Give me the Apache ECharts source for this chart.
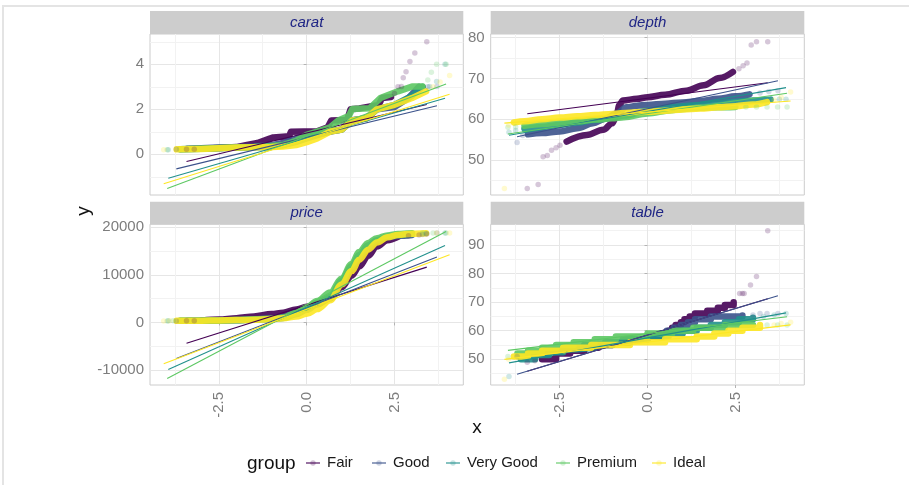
<!DOCTYPE html>
<html><head><meta charset="utf-8">
<script src="https://cdn.jsdelivr.net/npm/echarts@6/dist/echarts.min.js"></script>
<style>html,body{margin:0;padding:0;background:#fff}#c{width:909px;height:485px}</style>
</head><body><div id="c"></div>
<script>
// ---------- categories ----------
const groups = ['Fair', 'Good', 'Very Good', 'Premium', 'Ideal'];
const facets = ['carat', 'depth', 'price', 'table'];

// ---------- tick labels ----------
const xTicks = [-2.5, 0, 2.5];
const xMinor = [-3.75, -1.25, 1.25, 3.75];
const caratTicks = [0, 2, 4];
const caratMinor = [-1, 1, 3, 5];
const depthTicks = [50, 60, 70, 80];
const depthMinor = [45, 55, 65, 75];
const priceTicks = [-10000, 0, 10000, 20000];
const priceMinor = [-5000, 5000, 15000];
const tableTicks = [50, 60, 70, 80, 90];
const tableMinor = [45, 55, 65, 75, 85, 95];

// ---------- carat: [theoretical, sample] ----------
const carat_Fair = [[-3.0,0.25],[-2.5,0.28],[-2.0,0.32],[-1.7,0.42],[-1.4,0.5],[-1.05,0.7],[-0.95,0.75],[-0.5,0.8],[-0.45,1.0],[0.3,1.02],[0.6,1.2],[0.7,1.5],[1.15,1.52],[1.25,2.0],[1.5,2.04],[1.55,2.12],[2.05,2.2],[2.15,2.5],[2.4,2.55]];
const carat_Fair_tail = [[-3.42,0.22],[-3.2,0.23],[2.5,2.7],[2.6,3.0],[2.7,3.01],[2.75,3.4],[2.83,3.67],[2.94,4.13],[3.08,4.5],[3.42,5.01]];
const carat_Good = [[-3.4,0.25],[-3,0.27],[-2.5,0.3],[-2,0.31],[-1.5,0.35],[-1,0.41],[-0.67,0.5],[-0.3,0.7],[0,0.82],[0.4,0.91],[0.67,1.01],[1.0,1.1],[1.25,1.5],[1.7,1.6],[2.0,2.0],[2.5,2.1],[2.9,2.5],[3.2,3.0]];
const carat_Good_tail = [[-3.71,0.23],[3.45,3.0],[3.71,3.01]];
const carat_VeryGood = [[-3.6,0.23],[-3,0.25],[-2.5,0.27],[-2,0.3],[-1.5,0.31],[-1,0.33],[-0.67,0.41],[-0.3,0.55],[0,0.71],[0.4,0.9],[0.67,1.02],[1.0,1.1],[1.3,1.5],[1.7,1.6],[2.0,2.0],[2.5,2.2],[3.0,2.6],[3.3,3.0]];
const carat_VeryGood_tail = [[-3.94,0.2],[3.5,3.01],[3.7,3.24],[3.94,4.0]];
const carat_Premium = [[-3.6,0.23],[-3,0.25],[-2.5,0.28],[-2,0.3],[-1.5,0.32],[-1,0.37],[-0.67,0.41],[-0.3,0.6],[0,0.86],[0.3,1.01],[0.67,1.2],[0.9,1.5],[1.2,1.7],[1.3,2.02],[1.8,2.05],[2.1,2.5],[2.6,2.8],[3.0,3.01],[3.3,3.02]];
const carat_Premium_tail = [[-3.97,0.2],[3.45,3.3],[3.55,3.65],[3.7,4.01],[3.97,4.01]];
const carat_Ideal = [[-3.7,0.22],[-3,0.24],[-2.5,0.27],[-2,0.3],[-1.5,0.31],[-1,0.32],[-0.67,0.35],[-0.3,0.41],[0,0.54],[0.3,0.71],[0.67,1.01],[1.0,1.1],[1.3,1.5],[1.7,1.6],[2.0,2.0],[2.5,2.2],[3.0,2.5],[3.4,2.8]];
const carat_Ideal_tail = [[-4.07,0.2],[3.6,3.0],[3.8,3.22],[4.07,3.5]];
const carat_Fair_line = [[-3.42,-0.318],[3.42,2.218]];
const carat_Good_line = [[-3.71,-0.648],[3.71,2.158]];
const carat_VeryGood_line = [[-3.94,-1.066],[3.94,2.496]];
const carat_Premium_line = [[-3.97,-1.52],[3.97,3.13]];
const carat_Ideal_line = [[-4.07,-1.31],[4.07,2.67]];

// ---------- depth ----------
const depth_Fair = [[-2.3,54.5],[-1.73,56.1],[-1.26,57.4],[-1.0,59.0],[-0.88,61.0],[-0.8,63.5],[-0.7,64.6],[-0.3,65.0],[0,65.4],[0.5,66.0],[1.1,67.0],[1.6,68.3],[2.05,70.1],[2.43,71.6]];
const depth_Fair_tail = [[-3.42,43.0],[-3.11,44.0],[-2.97,50.8],[-2.85,51.1],[-2.73,52.4],[-2.6,53.0],[-2.49,53.6],[2.6,72.4],[2.72,73.1],[2.83,73.8],[2.95,78.2],[3.1,79.0],[3.42,79.0]];
const depth_Good = [[-3.4,56.3],[-3,56.6],[-2.5,57.0],[-2,57.8],[-1.55,59.0],[-1.2,60.1],[-0.88,61.4],[-0.6,62.9],[-0.3,63.3],[0,63.5],[0.5,63.8],[1,64.1],[1.5,64.5],[2,65.0],[2.5,65.6],[2.9,66.1]];
const depth_Good_tail = [[-3.71,54.3],[-3.55,56.0],[3.2,66.4],[3.45,66.8],[3.71,67.0]];
const depth_VeryGood = [[-3.5,57.6],[-3,58.1],[-2.5,58.6],[-2,59.2],[-1.5,59.8],[-1,60.4],[-0.67,60.9],[0,62.1],[0.67,62.9],[1,63.2],[1.5,63.5],[2,63.9],[2.5,64.3],[3,64.6],[3.5,64.8]];
const depth_VeryGood_tail = [[-3.94,56.8],[-3.75,57.2],[3.75,64.9],[3.94,64.9]];
const depth_Premium = [[-3.5,58.4],[-3,58.8],[-2.5,59.2],[-2,59.5],[-1.5,59.9],[-1,60.2],[-0.67,60.5],[0,61.4],[0.67,62.2],[1,62.5],[1.5,62.8],[2,62.9],[2.5,63.0]];
const depth_Premium_tail = [[-3.97,58.0],[-3.75,58.1],[2.8,63.0],[3.1,63.0],[3.4,63.0],[3.7,63.0],[3.97,63.0]];
const depth_Ideal = [[-3.8,59.2],[-3.5,59.5],[-3,60.0],[-2.5,60.4],[-2,60.7],[-1.5,61.0],[-1,61.3],[-0.5,61.6],[0,61.8],[0.5,62.1],[1,62.4],[1.5,62.6],[2,62.9],[2.5,63.2],[3,63.6],[3.4,64.2]];
const depth_Ideal_tail = [[-4.07,43.0],[-3.95,58.6],[3.6,64.7],[3.8,65.4],[4.07,66.7]];
const depth_Fair_line = [[-3.42,61.35],[3.42,68.95]];
const depth_Good_line = [[-3.71,55.68],[3.71,69.42]];
const depth_VeryGood_line = [[-3.94,56.06],[3.94,67.74]];
const depth_Premium_line = [[-3.97,56.35],[3.97,66.35]];
const depth_Ideal_line = [[-4.07,59.03],[4.07,64.46]];

// ---------- price ----------
const price_Fair = [[-3.0,380],[-2.5,600],[-2,900],[-1.5,1250],[-1,1750],[-0.67,2050],[-0.3,2700],[0,3282],[0.3,4000],[0.67,5206],[1,7400],[1.28,9800],[1.5,11800],[1.75,14000],[2,16000],[2.3,17300],[2.6,18000]];
const price_Fair_tail = [[-3.42,337],[-3.2,350],[2.9,18200],[3.2,18400],[3.42,18574]];
const price_Good = [[-3.4,340],[-3,370],[-2.5,420],[-2,520],[-1.5,650],[-1,850],[-0.67,1145],[-0.3,2000],[0,3050],[0.3,3800],[0.67,5028],[1,8500],[1.28,11200],[1.5,13600],[1.75,15800],[2,17000],[2.3,17900],[2.6,18200],[3,18400]];
const price_Good_tail = [[-3.71,327],[3.3,18500],[3.71,18788]];
const price_VeryGood = [[-3.6,345],[-3,380],[-2.5,430],[-2,480],[-1.5,580],[-1,720],[-0.67,912],[-0.3,1700],[0,2648],[0.3,3800],[0.67,5373],[1,8800],[1.28,11800],[1.5,14200],[1.75,16200],[2,17300],[2.3,18000],[2.6,18400],[3,18600]];
const price_VeryGood_tail = [[-3.94,336],[3.4,18700],[3.94,18818]];
const price_Premium = [[-3.6,340],[-3,370],[-2.5,430],[-2,510],[-1.5,640],[-1,790],[-0.67,1046],[-0.3,2000],[0,3185],[0.3,4500],[0.67,6296],[1,9200],[1.28,12300],[1.5,14800],[1.75,16700],[2,17700],[2.3,18300],[2.6,18600],[3,18750]];
const price_Premium_tail = [[-3.97,326],[-3.8,330],[3.3,18790],[3.6,18810],[3.97,18823]];
const price_Ideal = [[-3.7,335],[-3,380],[-2.5,430],[-2,490],[-1.5,580],[-1,700],[-0.67,878],[-0.3,1250],[0,1810],[0.3,2800],[0.67,4678],[1,8000],[1.28,10800],[1.5,13200],[1.75,15300],[2,16800],[2.3,17900],[2.6,18400],[3,18650],[3.4,18750]];
const price_Ideal_tail = [[-4.07,326],[-3.9,330],[3.7,18790],[4.07,18806]];
const price_Fair_line = [[-3.42,-4375],[3.42,11631]];
const price_Good_line = [[-3.71,-7591],[3.71,13764]];
const price_VeryGood_line = [[-3.94,-9887],[3.94,16172]];
const price_Premium_line = [[-3.97,-11780],[3.97,19122]];
const price_Ideal_line = [[-4.07,-8687],[4.07,14243]];

// ---------- table ----------
const table_Fair = [[-3.0,50],[-2.6,52],[-2.2,53],[-1.8,54],[-1.4,55],[-1.0,56],[-0.5,57],[0,58],[0.4,59],[0.6,60],[0.7,61],[0.8,62],[0.95,63],[1.05,64],[1.2,65],[1.35,66],[1.7,67],[2.0,68],[2.2,69],[2.45,70]];
const table_Fair_tail = [[-3.42,49],[-3.2,49.5],[2.62,73],[2.7,73],[2.75,73],[2.93,76],[3.1,79],[3.42,95]];
const table_Good = [[-3.4,52],[-2.9,53],[-2.4,54],[-1.8,55],[-1.2,56],[-0.7,57],[0,58],[0.35,59],[0.55,60],[0.75,61],[0.95,62],[1.15,63],[1.35,64],[1.8,65],[2.7,65.3]];
const table_Good_tail = [[-3.71,51],[3.0,65.5],[3.2,66],[3.4,66],[3.71,66]];
const table_VeryGood = [[-3.6,50],[-3.2,51.5],[-2.8,52.5],[-2.4,53.5],[-2,54],[-1.5,55],[-1,56],[-0.5,57],[0,58],[0.6,59],[1,60],[1.4,61],[1.8,62],[2.2,63],[2.6,64],[3.0,64.5]];
const table_VeryGood_tail = [[-3.94,44],[3.3,65],[3.6,65.5],[3.94,66]];
const table_Premium = [[-3.7,52],[-3.4,53],[-3.0,54],[-2.6,55],[-2.1,56],[-1.5,57],[-0.9,58],[0,59],[0.7,60],[1.3,61],[2.2,62],[3.0,62]];
const table_Premium_tail = [[-3.97,51],[3.4,62],[3.7,62],[3.97,62]];
const table_Ideal = [[-3.8,51],[-3.4,52],[-3.0,53],[-2.4,54],[-1.6,55],[-0.5,56],[0.5,57],[1.4,58],[1.9,59],[2.3,60],[2.7,61],[3.2,62]];
const table_Ideal_tail = [[-4.07,43],[-3.95,50],[3.6,62],[3.8,62.5],[4.07,63]];
const table_Fair_line = [[-3.42,45.83],[3.42,71.17]];
const table_Good_line = [[-3.71,44.75],[3.71,72.25]];
const table_VeryGood_line = [[-3.94,48.74],[3.94,66.26]];
const table_Premium_line = [[-3.97,53.11],[3.97,64.89]];
const table_Ideal_line = [[-4.07,49.97],[4.07,62.03]];

// ---------- assemble ----------
const colors = ['#440154', '#3B528B', '#21908C', '#5DC863', '#FDE725'];
const coreSets = {
  carat: [carat_Fair, carat_Good, carat_VeryGood, carat_Premium, carat_Ideal],
  depth: [depth_Fair, depth_Good, depth_VeryGood, depth_Premium, depth_Ideal],
  price: [price_Fair, price_Good, price_VeryGood, price_Premium, price_Ideal],
  table: [table_Fair, table_Good, table_VeryGood, table_Premium, table_Ideal]
};
const tailSets = {
  carat: [carat_Fair_tail, carat_Good_tail, carat_VeryGood_tail, carat_Premium_tail, carat_Ideal_tail],
  depth: [depth_Fair_tail, depth_Good_tail, depth_VeryGood_tail, depth_Premium_tail, depth_Ideal_tail],
  price: [price_Fair_tail, price_Good_tail, price_VeryGood_tail, price_Premium_tail, price_Ideal_tail],
  table: [table_Fair_tail, table_Good_tail, table_VeryGood_tail, table_Premium_tail, table_Ideal_tail]
};
const lineSets = {
  carat: [carat_Fair_line, carat_Good_line, carat_VeryGood_line, carat_Premium_line, carat_Ideal_line],
  depth: [depth_Fair_line, depth_Good_line, depth_VeryGood_line, depth_Premium_line, depth_Ideal_line],
  price: [price_Fair_line, price_Good_line, price_VeryGood_line, price_Premium_line, price_Ideal_line],
  table: [table_Fair_line, table_Good_line, table_VeryGood_line, table_Premium_line, table_Ideal_line]
};
const yTickSets = {carat: caratTicks, depth: depthTicks, price: priceTicks, table: tableTicks};
const yMinorSets = {carat: caratMinor, depth: depthMinor, price: priceMinor, table: tableMinor};

// layout (positions/styles)
const gridPos = [
  {left: 150, top: 34, width: 313.3, height: 161},
  {left: 490.7, top: 34, width: 313.6, height: 161},
  {left: 150, top: 224.3, width: 313.3, height: 160.7},
  {left: 490.7, top: 224.3, width: 313.6, height: 160.7}
];
const yRange = {carat: [-1.81, 5.35], depth: [41.4, 80.9], price: [-13150, 20630], table: [41.0, 97.25]};
const xRange = [-4.46, 4.46];
const FONT = '"Liberation Sans", Arial, Helvetica, sans-serif';
const labelGrey = '#7d7d7d';
const legendTextLeft = [327, 393, 467, 577, 673];

const grids = [], xAxes = [], yAxes = [], series = [], graphics = [];

facets.forEach((f, i) => {
  const g = gridPos[i];
  const bottom = i >= 2;
  grids.push(Object.assign({show: true, borderColor: '#cccccc', borderWidth: 1, backgroundColor: '#ffffff', containLabel: false}, g));
  xAxes.push({
    type: 'value', gridIndex: i, min: xRange[0], max: xRange[1],
    axisLine: {show: false},
    axisTick: {show: bottom, customValues: xTicks, length: 3, lineStyle: {color: '#b3b3b3'}},
    axisLabel: {show: bottom, customValues: xTicks, rotate: 90, margin: 7, color: labelGrey, fontSize: 15, fontFamily: FONT,
      formatter: v => v.toFixed(1)},
    splitLine: {show: true, lineStyle: {color: '#e6e6e6', width: 1}}
  });
  xAxes.push({
    type: 'value', gridIndex: i, min: xRange[0], max: xRange[1],
    axisLine: {show: false},
    axisTick: {show: false, customValues: xMinor},
    axisLabel: {show: false, customValues: xMinor},
    splitLine: {show: true, lineStyle: {color: '#f2f2f2', width: 1}}
  });
  yAxes.push({
    type: 'value', gridIndex: i, min: yRange[f][0], max: yRange[f][1],
    axisLine: {show: false},
    axisTick: {show: true, customValues: yTickSets[f], length: 3, lineStyle: {color: '#b3b3b3'}},
    axisLabel: {show: true, customValues: yTickSets[f], margin: 6, color: labelGrey, fontSize: 15, fontFamily: FONT,
      formatter: v => String(v)},
    splitLine: {show: true, lineStyle: {color: '#e6e6e6', width: 1}}
  });
  yAxes.push({
    type: 'value', gridIndex: i, min: yRange[f][0], max: yRange[f][1],
    axisLine: {show: false},
    axisTick: {show: false, customValues: yMinorSets[f]},
    axisLabel: {show: false, customValues: yMinorSets[f]},
    splitLine: {show: true, lineStyle: {color: '#f2f2f2', width: 1}}
  });

  groups.forEach((grp, k) => {
    series.push({
      name: grp + ' pts', type: 'line', xAxisIndex: 2 * i, yAxisIndex: 2 * i,
      data: coreSets[f][k], symbol: 'none', silent: true, z: 2,
      smooth: (f === 'price' || f === 'depth') ? 0.35 : false,
      smoothMonotone: 'x',
      step: f === 'table' ? 'end' : false,
      lineStyle: {color: colors[k], width: 6.5, opacity: 0.9, cap: 'round', join: 'round'}
    });
    series.push({
      name: grp + ' tail', type: 'scatter', xAxisIndex: 2 * i, yAxisIndex: 2 * i,
      data: tailSets[f][k], symbol: 'circle', symbolSize: 5.5, silent: true, z: 2,
      itemStyle: {color: colors[k], opacity: 0.22}
    });
  });
  groups.forEach((grp, k) => {
    series.push({
      name: grp, type: 'line', xAxisIndex: 2 * i, yAxisIndex: 2 * i,
      data: lineSets[f][k], symbol: 'none', silent: true, z: 3,
      itemStyle: {color: colors[k]},
      lineStyle: {color: colors[k], width: 1.1}
    });
  });

  const stripTop = i < 2 ? 11 : 201.7;
  graphics.push({type: 'rect', silent: true, z: 5,
    shape: {x: g.left, y: stripTop, width: g.width, height: g.top - stripTop},
    style: {fill: '#cdcdcd'}});
  graphics.push({type: 'text', silent: true, z: 6,
    x: g.left + g.width / 2, y: stripTop + (g.top - stripTop) / 2,
    style: {text: f, fill: '#1f2585', font: 'italic 15px ' + FONT, align: 'center', verticalAlign: 'middle'}});
});

// frame, axis titles, legend
graphics.push({type: 'rect', silent: true, z: 0,
  shape: {x: 3, y: 6, width: 1000, height: 1000}, style: {fill: 'none', stroke: '#e4e4e4', lineWidth: 2}});
graphics.push({type: 'text', silent: true, x: 84, y: 211, rotation: Math.PI / 2,
  style: {text: 'y', fill: '#111', font: '19px ' + FONT, align: 'center', verticalAlign: 'middle'}});
graphics.push({type: 'text', silent: true, x: 477, y: 428,
  style: {text: 'x', fill: '#111', font: '19px ' + FONT, align: 'center', verticalAlign: 'middle'}});
graphics.push({type: 'text', silent: true, x: 247, y: 464,
  style: {text: 'group', fill: '#111', font: '19px ' + FONT, align: 'left', verticalAlign: 'middle'}});
groups.forEach((grp, k) => {
  const tx = legendTextLeft[k];
  const cx = tx - 14;
  graphics.push({type: 'line', silent: true, shape: {x1: cx - 7, y1: 463, x2: cx + 7, y2: 463},
    style: {stroke: colors[k], lineWidth: 1.1}});
  graphics.push({type: 'circle', silent: true, shape: {cx: cx, cy: 463, r: 2.7},
    style: {fill: colors[k], opacity: 0.25}});
  graphics.push({type: 'text', silent: true, x: tx, y: 463,
    style: {text: grp, fill: '#1a1a1a', font: '15px ' + FONT, align: 'left', verticalAlign: 'middle'}});
});

const chart = echarts.init(document.getElementById('c'), null, {renderer: 'canvas'});
chart.setOption({
  animation: false,
  backgroundColor: '#ffffff',
  grid: grids,
  xAxis: xAxes,
  yAxis: yAxes,
  series: series,
  graphic: graphics
});
</script>
</body></html>
